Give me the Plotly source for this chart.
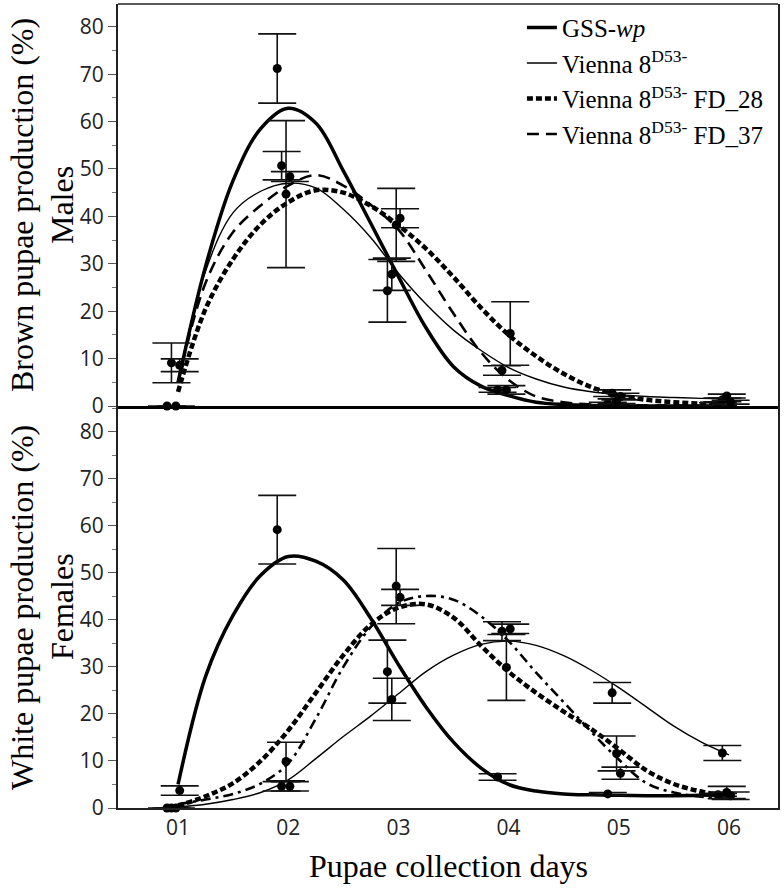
import plotly.graph_objects as go
from plotly.subplots import make_subplots

# ---------------- data ----------------
DAYS = [1, 2, 3, 4, 5, 6]
DAY_LABELS = ["01", "02", "03", "04", "05", "06"]
Y_TICKS = [0, 10, 20, 30, 40, 50, 60, 70, 80]

SERIES_NAMES = ["GSS-<i>wp</i>",
                "Vienna 8<sup>D53-</sup>",
                "Vienna 8<sup>D53-</sup> FD_28",
                "Vienna 8<sup>D53-</sup> FD_37"]

# Males (brown pupae), observed means and error
MALE_GSS = [0.0, 71.2, 24.3, 3.4, 0.5, 0.4]
MALE_GSS_ERR = [0.0, 7.3, 6.6, 0.5, 0.3, 0.3]
MALE_V8 = [9.1, 50.7, 27.8, 7.5, 2.7, 1.3]
MALE_V8_ERR = [4.2, 3.0, 3.4, 1.0, 0.7, 0.4]
MALE_FD28 = [8.6, 48.4, 39.6, 15.3, 2.0, 0.8]
MALE_FD28_ERR = [1.35, 1.05, 2.0, 6.7, 0.7, 0.4]
MALE_FD37 = [0.0, 44.7, 38.2, 3.4, 1.0, 2.1]
MALE_FD37_ERR = [0.0, 15.5, 7.7, 0.9, 0.5, 0.4]

# Females (white pupae), observed means and error
FEM_GSS = [0.0, 59.2, 29.0, 6.6, 3.0, 2.8]
FEM_GSS_ERR = [0.0, 7.3, 6.7, 0.7, 0.3, 0.3]
FEM_V8 = [0.0, 4.6, 23.1, 37.6, 24.5, 11.7]
FEM_V8_ERR = [0.0, 1.0, 4.5, 2.0, 2.2, 1.6]
FEM_FD28 = [3.7, 4.6, 44.8, 38.1, 7.4, 2.6]
FEM_FD28_ERR = [1.0, 1.0, 1.7, 1.0, 1.3, 0.8]
FEM_FD37 = [0.0, 9.9, 47.2, 29.9, 11.6, 3.3]
FEM_FD37_ERR = [0.0, 4.1, 8.0, 7.0, 3.7, 1.3]

# Fitted curves
CURVE_X = [1.0, 1.25, 1.5, 1.75, 2.0, 2.25, 2.5, 2.75, 3.0, 3.25, 3.5,
           3.75, 4.0, 4.25, 4.5, 4.75, 5.0, 5.25, 5.5, 5.75, 6.0]
MALE_GSS_FIT = [5.0, 29.5, 47.6, 58.5, 62.8, 59.7, 49.6, 38.5, 27.3, 16.5, 8.3,
                4.2, 2.2, 0.8, 0.3, 0.1, 0.05, 0.0, 0.0, 0.0, 0.0]
MALE_V8_FIT = [5.5, 28.5, 40.8, 45.3, 47.0, 46.0, 41.5, 35.5, 28.0, 21.5, 16.0,
               11.7, 8.1, 5.7, 4.0, 3.0, 2.4, 2.0, 1.8, 1.6, 1.5]
MALE_FD28_FIT = [3.0, 20.5, 31.0, 38.3, 43.0, 45.5, 45.0, 42.2, 38.1, 33.2, 27.2,
                 20.7, 15.0, 10.5, 6.8, 4.0, 2.3, 1.3, 0.8, 0.5, 0.4]
MALE_FD37_FIT = [5.0, 26.0, 36.7, 42.3, 46.5, 48.7, 46.5, 42.4, 37.2, 28.6, 19.5,
                 11.3, 5.5, 2.0, 0.8, 0.3, 0.2, 0.1, 0.1, 0.05, 0.0]

FEM_GSS_FIT = [5.0, 28.0, 41.0, 49.5, 53.5, 52.5, 48.5, 40.3, 30.5, 21.5, 14.0,
               8.5, 5.0, 3.6, 3.0, 2.8, 2.7, 2.6, 2.6, 2.7, 2.8]
FEM_V8_FIT = [0.2, 0.8, 1.8, 3.3, 6.0, 10.5, 15.2, 19.6, 24.3, 29.0, 32.5,
              34.8, 35.5, 34.6, 32.4, 29.3, 25.6, 21.5, 17.4, 14.0, 11.3]
FEM_FD28_FIT = [0.5, 2.5, 5.3, 10.0, 16.5, 24.5, 32.5, 39.0, 42.6, 43.3, 40.5,
                34.5, 29.0, 24.5, 20.5, 16.8, 12.5, 8.0, 5.1, 3.5, 2.5]
FEM_FD37_FIT = [0.8, 1.8, 3.0, 5.2, 9.5, 19.0, 30.0, 38.5, 43.6, 45.1, 44.3,
                40.8, 35.5, 28.8, 22.5, 16.2, 10.3, 5.3, 3.3, 2.4, 2.0]

# ---------------- styling ----------------
OFFSETS = [-0.10, -0.06, 0.015, -0.02]   # horizontal jitter of the dots per series
LINE_STYLES_TOP = [dict(width=3.5, dash="solid"),
                   dict(width=1.4, dash="solid"),
                   dict(width=4.5, dash="6px,3px"),
                   dict(width=2.6, dash="12px,7px")]
LINE_STYLES_BOTTOM = [dict(width=3.5, dash="solid"),
                      dict(width=1.4, dash="solid"),
                      dict(width=4.5, dash="6px,3px"),
                      dict(width=2.6, dash="10px,5px,3px,5px")]

SERIF = "Liberation Serif"
SANS = "Open Sans"

fig = make_subplots(rows=2, cols=1, shared_xaxes=True, vertical_spacing=0)

male_vals = [MALE_GSS, MALE_V8, MALE_FD28, MALE_FD37]
male_errs = [MALE_GSS_ERR, MALE_V8_ERR, MALE_FD28_ERR, MALE_FD37_ERR]
male_fits = [MALE_GSS_FIT, MALE_V8_FIT, MALE_FD28_FIT, MALE_FD37_FIT]
fem_vals = [FEM_GSS, FEM_V8, FEM_FD28, FEM_FD37]
fem_errs = [FEM_GSS_ERR, FEM_V8_ERR, FEM_FD28_ERR, FEM_FD37_ERR]
fem_fits = [FEM_GSS_FIT, FEM_V8_FIT, FEM_FD28_FIT, FEM_FD37_FIT]

for row, vals, errs, fits, styles in [(1, male_vals, male_errs, male_fits, LINE_STYLES_TOP),
                                      (2, fem_vals, fem_errs, fem_fits, LINE_STYLES_BOTTOM)]:
    for i in range(4):
        fig.add_trace(go.Scatter(
            x=CURVE_X, y=fits[i], mode="lines",
            line=dict(color="black", shape="spline", smoothing=1.0, **styles[i]),
            name=SERIES_NAMES[i], showlegend=(row == 1), legendrank=i + 1,
            cliponaxis=False, hoverinfo="skip"), row=row, col=1)
    for i in range(4):
        fig.add_trace(go.Scatter(
            x=[d + OFFSETS[i] for d in DAYS], y=vals[i], mode="markers",
            marker=dict(color="black", size=9),
            error_y=dict(type="data", array=errs[i], visible=True,
                         color="#111", thickness=1.6, width=19),
            showlegend=False, cliponaxis=False), row=row, col=1)

axis_common = dict(showgrid=False, zeroline=False)
fig.update_xaxes(range=[0.455, 6.445], **axis_common)
fig.update_xaxes(row=1, col=1, showline=True, linewidth=3, linecolor="black",
                 ticks="", showticklabels=False)
fig.update_xaxes(row=2, col=1, showline=True, linewidth=2, linecolor="#222",
                 ticks="", tickvals=DAYS, ticktext=DAY_LABELS, showticklabels=True,
                 tickfont=dict(family=SANS, size=21, color="#222"))
fig.update_yaxes(showline=True, linewidth=2, linecolor="#222", mirror=True,
                 ticks="outside", ticklen=8, tickwidth=1.2, tickcolor="#555",
                 tickvals=Y_TICKS, tickfont=dict(family=SANS, size=21, color="#222"),
                 minor=dict(ticks="outside", ticklen=4, tickwidth=1, tickcolor="#777",
                            dtick=5, tick0=0),
                 **axis_common)
fig.update_yaxes(row=1, col=1, range=[0, 84.8])
fig.update_yaxes(row=2, col=1, range=[0, 85.5])

# top border of the frame
fig.add_shape(type="line", xref="paper", yref="paper", x0=0, x1=1, y0=1, y1=1,
              line=dict(color="#222", width=1.6))

title_font = dict(family=SERIF, size=32, color="black")
annotations = [
    dict(text="Pupae collection days", x=0.5, y=-0.072, xref="paper", yref="paper",
         xanchor="center", yanchor="middle", showarrow=False, font=title_font),
    dict(text="Brown pupae production (%)", x=-0.1455, y=0.75, xref="paper", yref="paper",
         textangle=-90, xanchor="center", yanchor="middle", showarrow=False, font=title_font),
    dict(text="Males", x=-0.0848, y=0.75, xref="paper", yref="paper",
         textangle=-90, xanchor="center", yanchor="middle", showarrow=False, font=title_font),
    dict(text="White pupae production (%)", x=-0.1455, y=0.25, xref="paper", yref="paper",
         textangle=-90, xanchor="center", yanchor="middle", showarrow=False, font=title_font),
    dict(text="Females", x=-0.0848, y=0.25, xref="paper", yref="paper",
         textangle=-90, xanchor="center", yanchor="middle", showarrow=False, font=title_font),
]

fig.update_layout(
    width=784, height=894,
    margin=dict(l=118, r=6, t=4, b=86),
    paper_bgcolor="white", plot_bgcolor="white",
    annotations=annotations,
    legend=dict(x=0.612, y=0.999, xanchor="left", yanchor="top",
                bgcolor="rgba(0,0,0,0)", font=dict(family=SERIF, size=25, color="black"),
                itemwidth=30, tracegroupgap=0),
    showlegend=True,
)

fig.write_html("out.html",
               config={"displayModeBar": False},
               post_script="document.body.style.margin='0';document.body.style.overflow='hidden';")
